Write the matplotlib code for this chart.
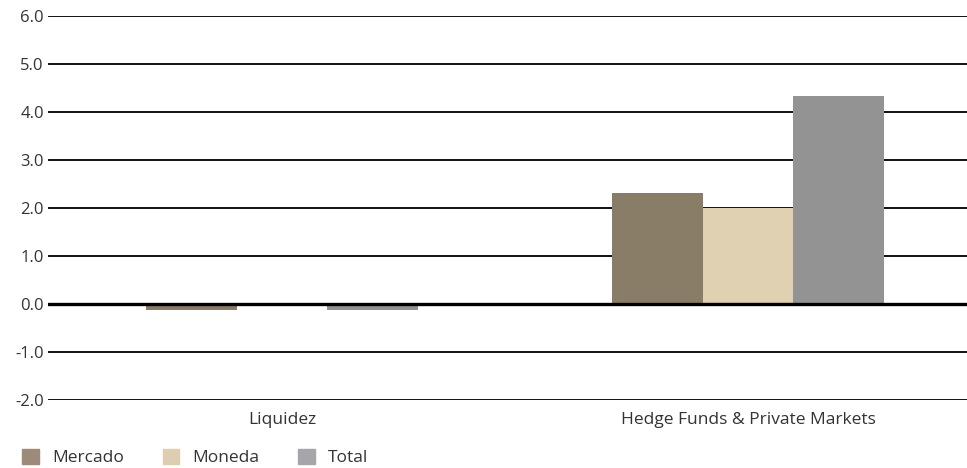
import matplotlib.pyplot as plt
from matplotlib.patches import Patch

# Données du graphique
categories = ["Liquidez", "Hedge Funds & Private Markets"]
series = ["Mercado", "Moneda", "Total"]
mercado = [-0.12, 2.31]
moneda = [-0.01, 2.0]
total = [-0.12, 4.33]
yticks = [-2.0, -1.0, 0.0, 1.0, 2.0, 3.0, 4.0, 5.0, 6.0]

colors = ["#8A7D67", "#DFD1B2", "#939393"]
legend_colors = ["#9B8B78", "#DFCDB2", "#A5A5AA"]

plt.rcParams["font.family"] = ["Open Sans", "DejaVu Sans"]

fig = plt.figure(figsize=(9.67, 4.68), dpi=100)
ax = fig.add_axes([48 / 967, 1 - 400 / 468, 1 - 48 / 967, 384 / 468])

w = 0.195
x = list(range(len(categories)))
for i, (vals, c) in enumerate(zip([mercado, moneda, total], colors)):
    ax.bar([xi + (i - 1) * w for xi in x], vals, width=w, color=c, zorder=3)

# Lignes horizontales
for t in yticks:
    if t == 0:
        ax.axhline(t, color="black", lw=2.4, zorder=4)
    else:
        ax.axhline(t, color="#111111", lw=1.4, zorder=1)

ax.set_ylim(-2.0, 6.0)
ax.set_xlim(-0.502, 1.47)
ax.set_yticks(yticks)
ax.set_yticklabels([f"{t:.1f}" for t in yticks], fontsize=12, color="#333333")
ax.set_xticks(x)
ax.set_xticklabels(categories, fontsize=12.5, color="#333333")
ax.tick_params(axis="y", length=0, pad=3)
ax.tick_params(axis="x", length=0, pad=9)
for s in ax.spines.values():
    s.set_visible(False)

handles = [Patch(color=c, label=s) for c, s in zip(legend_colors, series)]
fig.legend(handles=handles, loc="lower left", bbox_to_anchor=(0.007, -0.03), ncol=3,
           frameon=False, fontsize=12.5, handlelength=0.95, handleheight=0.95,
           handletextpad=0.75, columnspacing=2.25, labelcolor="#333333")

plt.savefig("out.png", dpi=100)
